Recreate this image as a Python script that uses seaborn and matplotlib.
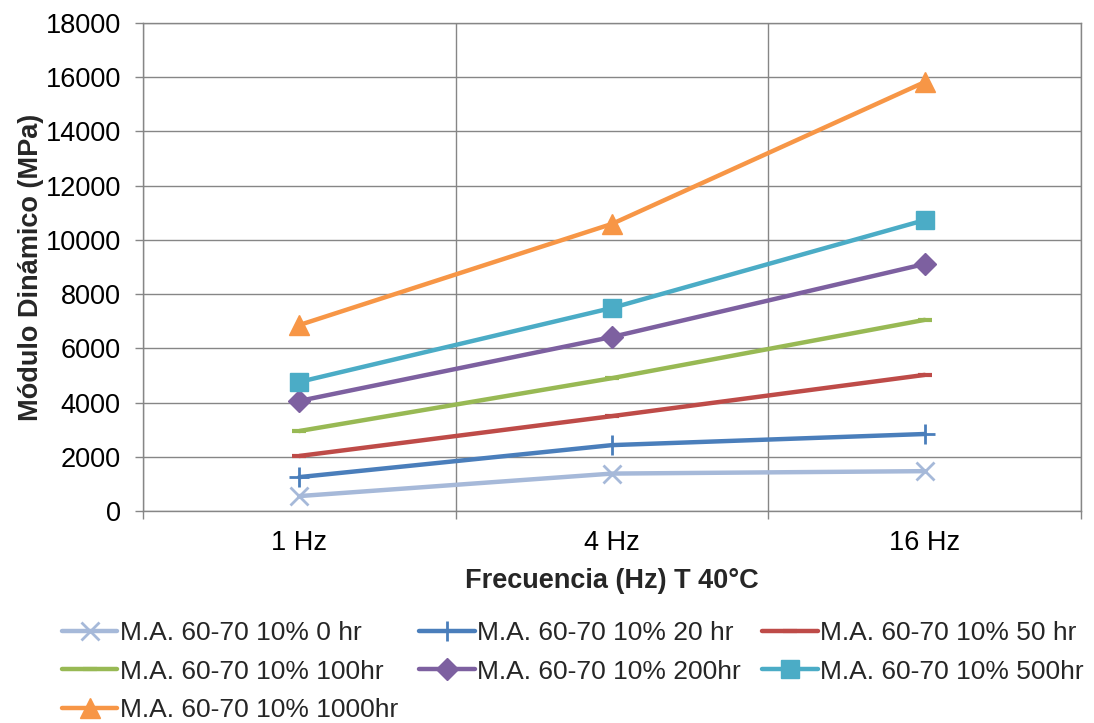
import matplotlib
matplotlib.use("Agg")
import matplotlib.pyplot as plt
import seaborn as sns
import pandas as pd
from matplotlib.ticker import MultipleLocator, FixedLocator

categories = ["1 Hz", "4 Hz", "16 Hz"]
series_names = [
    "M.A. 60-70 10% 0 hr",
    "M.A. 60-70 10% 20 hr",
    "M.A. 60-70 10% 50 hr",
    "M.A. 60-70 10% 100hr",
    "M.A. 60-70 10% 200hr",
    "M.A. 60-70 10% 500hr",
    "M.A. 60-70 10% 1000hr",
]
v_0hr = [550, 1380, 1470]
v_20hr = [1250, 2430, 2840]
v_50hr = [2030, 3500, 5020]
v_100hr = [2950, 4900, 7050]
v_200hr = [4060, 6420, 9110]
v_500hr = [4760, 7490, 10730]
v_1000hr = [6860, 10590, 15820]
values = [v_0hr, v_20hr, v_50hr, v_100hr, v_200hr, v_500hr, v_1000hr]

colors = ["#A6B9D9", "#4A7EBB", "#BE4B48", "#98B954", "#7D60A0", "#4BACC6", "#F79646"]
markers = ["x", "+", "_", "_", "D", "s", "^"]
msizes = [13, 15, 10, 10, 11, 13, 14]
mews = [2, 2, 3, 3, 1, 1, 1]

sns.set_theme(style="white")
plt.rcParams["font.family"] = ["Liberation Sans", "DejaVu Sans"]

fig = plt.figure(figsize=(10.94, 7.23), dpi=100)
ax = fig.add_axes([143 / 1094, 1 - 511 / 723, (1081 - 143) / 1094, (511 - 23) / 723])

for name, vals, c, m, ms, mew in zip(series_names, values, colors, markers, msizes, mews):
    df = pd.DataFrame({"Frecuencia": categories, "Modulo": vals})
    sns.lineplot(data=df, x="Frecuencia", y="Modulo", ax=ax, color=c, lw=3.2,
                 marker=m, markersize=ms, markeredgecolor=c, markerfacecolor=c,
                 markeredgewidth=mew, label=name, sort=False, zorder=3)

ax.set_xlim(-0.5, 2.5)
ax.set_ylim(0, 18000)
ax.yaxis.set_major_locator(MultipleLocator(2000))
ax.set_xticks([0, 1, 2])
ax.set_xticklabels(categories)
ax.xaxis.set_minor_locator(FixedLocator([-0.5, 0.5, 1.5, 2.5]))
ax.tick_params(axis="x", which="major", length=0, labelsize=19.5, pad=14, colors="black")
ax.tick_params(axis="x", which="minor", length=6, width=1, color="#868686", direction="out", bottom=True)
ax.tick_params(axis="y", which="major", length=6, width=1, color="#868686", direction="out", left=True,
               labelsize=19.5, pad=10, labelcolor="black")
ax.grid(False)
ax.yaxis.grid(True, color="#868686", lw=1)
ax.xaxis.grid(True, which="minor", color="#868686", lw=1)
for s in ax.spines.values():
    s.set_color("#868686")
    s.set_linewidth(1)

ax.set_xlabel("Frecuencia (Hz) T 40°C", fontsize=19.5, fontweight="bold", labelpad=8)
ax.set_ylabel("Módulo Dinámico (MPa)", fontsize=19.5, fontweight="bold", labelpad=1)

if ax.legend_:
    ax.legend_.remove()
handles, labels = ax.get_legend_handles_labels()
order = [0, 3, 6, 1, 4, 2, 5]
leg = fig.legend([handles[i] for i in order], [labels[i] for i in order],
                 loc="upper left", bbox_to_anchor=(62 / 1094, 1 - 621 / 723),
                 ncol=3, frameon=False, fontsize=19, handlelength=2.1, handletextpad=0.1,
                 columnspacing=0.8, labelspacing=0.55, borderaxespad=0, borderpad=0)

fig.savefig("out.png", dpi=100)
